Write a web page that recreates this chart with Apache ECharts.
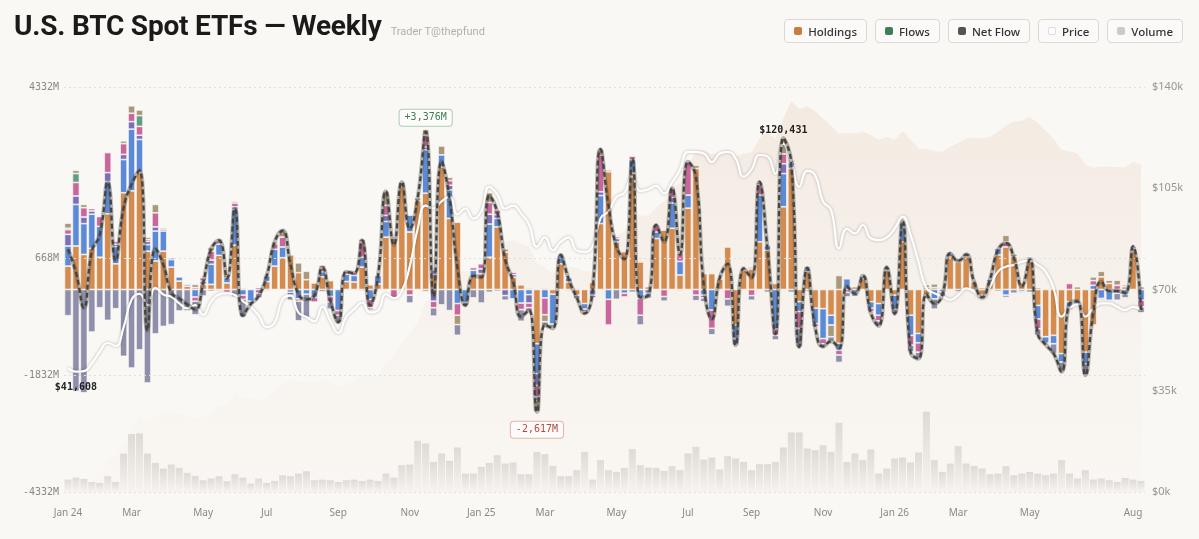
<!DOCTYPE html>
<html>
<head>
<meta charset="utf-8">
<title>U.S. BTC Spot ETFs — Weekly</title>
<script src="https://cdn.jsdelivr.net/npm/echarts@6/dist/echarts.min.js"></script>
<style>
  html, body { margin: 0; padding: 0; background: #faf8f5; }
  #wrap { position: relative; width: 1199px; height: 539px; overflow: hidden; }
  #chart { position: absolute; left: 0; top: 0; width: 1199px; height: 539px; }
  .head { position: absolute; left: 14px; top: 9px; z-index: 2; display: flex; align-items: baseline; white-space: nowrap; }
  .head h1 { margin: 0; font: 700 28px Roboto, sans-serif; letter-spacing: -0.2px; color: #1b1a19; }
  .head span { margin-left: 9px; font: 400 11px Roboto, sans-serif; color: #b3afaa; }
  .legend { position: absolute; top: 19px; right: 16px; display: flex; gap: 8px; z-index: 2; }
  .legend div { height: 22px; border: 1px solid #dcd8d3; border-radius: 4px; background: #fbfaf8;
    padding: 0 9px; display: flex; align-items: center; font: 500 11.5px "Noto Sans", sans-serif; color: #333; }
  .legend i { width: 8px; height: 8px; border-radius: 2px; margin-right: 6px; box-sizing: border-box; }
</style>
</head>
<body>
<div id="wrap">
  <div class="head"><h1>U.S. BTC Spot ETFs — Weekly</h1><span>Trader T@thepfund</span></div>
  <div class="legend" id="legend"></div>
  <div id="chart"></div>
</div>
<script>
// weekly flows per fund, $M (weeks starting Mon 2024-01-08)
const ibit = [
  500, 930, 750, 880, 690, 1620, 550, 2070, 2110, 2500,
  820, 610, 820, 480, 180, 70, 40, 110, 110, 730,
  140, 950, 30, 0, 0, 170, 500, 680, 740, 360,
  210, 140, 270, 190, 0, 170, 160, 480, 100, 120,
  1120, 1100, 2190, 1230, 1900, 2060, 320, 2620, 1520, 1440,
  0, 280, 340, 690, 1340, 800, 260, 100, 30, -1160,
  30, -100, 550, 160, -120, -300, 150, 1410, 2520, 1020,
  810, 2490, 590, 60, 1090, 1270, 1310, 310, 1740, 2590,
  340, 340, 220, 910, -760, 410, 440, 1020, 840, 130,
  1770, 2590, -260, 380, -400, -410, -550, -1150, 0, 60,
  230, -260, -300, 410, -120, 1020, -550, -940, -120, 40,
  30, 700, 590, 700, 160, -120, 160, 740, 910, 700,
  140, 590, -340, -1010, -980, -1370, -260, -250, -1340, -760,
  270, 130, 0, 60, 810, 0
];
const fbtc = [
  430, 890, 660, 730, 660, 690, 370, 710, 1320, 710,
  140, 640, 430, 160, 90, 40, -160, 70, 430, 240,
  110, 760, -120, -250, 0, 120, 360, 230, -60, -200,
  -100, -170, 110, -150, -450, 160, 140, 210, -210, 180,
  335, 0, 0, 360, 0, 930, 100, 260, 610, -300,
  -280, 130, 0, 710, 180, 0, -200, -290, -110, -640,
  -180, -640, 180, 90, 0, -120, -120, 600, -210, 70,
  -80, 290, -190, -80, 140, 0, 540, 290, 280, 0,
  -120, -440, 30, 0, -290, 0, 40, 1000, 100, -840,
  710, 130, -210, 70, -330, -640, -210, -150, 230, -80,
  60, -140, -250, 70, -300, 320, -430, -200, 40, -200,
  -50, 70, 70, 70, 30, -90, 60, 140, -120, 0,
  -40, 0, -290, -140, -180, -180, -120, -60, -250, 90,
  -190, -230, 0, -100, 70, -230
];
const bitb = [
  250, 180, 140, 70, 0, 190, 50, 110, 160, 90,
  70, 90, 40, 40, 0, 0, 0, 0, 90, 0,
  0, 60, 0, 0, 40, 0, 0, 0, -60, 0,
  0, 0, 0, 0, 0, 0, 0, 0, 0, 0,
  130, 0, 0, 0, 0, 60, -250, 0, 100, 0,
  0, 0, 100, 210, 80, -130, 60, 0, -180, -250,
  0, 0, 0, 0, 0, 0, 0, 80, 0, 0,
  0, 0, 0, 0, 0, 0, 120, 0, 0, 0,
  0, 0, 0, 0, 0, 0, 0, 0, 0, 0,
  210, 0, 0, 0, 0, 0, 0, 0, 0, 0,
  0, 0, 0, 0, 0, 0, 0, 0, 0, 0,
  0, 0, 0, 0, 0, 0, 0, 0, 0, 0,
  0, 0, 0, 0, 0, 0, 0, 0, 0, 0,
  0, 0, -80, 0, 0, 0
];
const arkb = [
  100, 290, 200, 50, 210, 430, 60, 230, 180, 190,
  40, 300, 30, 0, 0, 20, -90, 70, 190, 70,
  -60, 80, -90, 0, -80, 30, 120, 210, 0, -50,
  0, -100, 80, -120, -100, 70, 70, 320, -180, 0,
  215, -190, 0, -120, 0, 250, -140, 0, 100, -250,
  0, 60, 110, 250, 100, 0, 50, -140, -100, -250,
  -360, 0, 30, 0, 0, -60, -60, 780, -550, 40,
  -80, 70, -360, 0, 150, -150, 200, 180, 710, -120,
  -60, -390, 0, -200, 0, 40, -130, 220, 0, -140,
  210, 0, -360, 0, -70, -110, 0, -100, -60, 0,
  0, -70, -120, 0, 0, 80, -210, -200, 0, 0,
  0, 0, 0, 0, 0, 0, 0, 0, 110, 0,
  0, 70, -210, 0, 0, 0, 130, 0, 0, 100,
  0, 0, 90, 0, 40, -140
];
const hodl = [
  30, 190, 0, 0, 0, 0, 0, 0, 0, 230,
  0, 0, 0, 0, 0, 0, 0, 0, 0, 0,
  0, 0, 0, 0, 0, 0, 0, 0, 0, 0,
  0, 0, 0, 0, 0, 0, 0, 0, 0, 0,
  0, 0, 0, 0, 0, 0, 0, 0, 0, 0,
  0, 0, 0, 0, 0, 0, 0, 0, 0, -80,
  0, 0, 0, 0, 0, 0, 0, 0, 0, 0,
  0, 0, 0, 0, 0, 0, 0, 0, 0, 0,
  0, 0, 0, 0, 0, 0, 0, 0, 0, 0,
  0, 0, 0, 0, 0, 0, 0, 0, 0, 0,
  0, 0, 0, 0, 0, 0, 0, 0, 0, 0,
  0, 0, 0, 0, 0, 0, 0, 0, 0, 0,
  0, 0, 0, 0, 0, 0, 0, 0, 0, 0,
  0, 0, 0, 0, 0, 0
];
const others = [
  110, 70, 70, 0, 0, 20, 0, 60, 160, 120,
  50, 180, 0, 0, 0, 0, 70, 30, 80, 40,
  50, 40, 0, 0, 0, 0, 40, 140, 20, 210,
  180, 0, 60, 0, 0, 0, 0, 70, 0, 0,
  300, 40, 110, 0, 60, 120, 0, 190, 70, -200,
  0, 0, 0, 210, 0, 70, 0, 0, 0, -120,
  -150, -60, 0, 0, 30, 0, 0, 130, 40, 0,
  0, 0, 0, 0, 0, 0, 0, 0, 0, 70,
  0, 0, 0, 0, 0, 0, 0, 60, 0, 0,
  340, 50, 0, 50, 0, 0, -250, 300, 0, 0,
  0, 0, 0, 0, 0, 40, 0, 0, 60, 80,
  0, 0, 0, 0, 0, 40, 0, 0, 140, 60,
  0, 40, 40, 0, 0, 0, 0, 60, 0, 80,
  120, 70, 110, 40, 0, 60
];
const gbtc = [
  -560, -2180, -2210, -910, -390, -660, -410, -1430, -1680, -1290,
  -2000, -950, -790, -750, -460, -450, -290, -140, -40, -30,
  0, -160, -380, -60, -100, -30, 0, 0, -110, -420,
  -500, 0, -50, -150, -150, -20, -20, -30, -50, -20,
  0, 0, 0, -170, 0, -44, -180, -330, -450, -230,
  -60, -180, -290, -60, -40, -100, 0, -250, -80, -117,
  -100, -30, -20, -30, -80, -30, 0, 0, 0, -210,
  0, -60, -210, -110, 0, -100, 0, -30, 0, -120,
  -80, -140, 0, -160, -140, 0, -100, 0, -60, -100,
  0, -60, -400, -40, 0, -60, -100, -160, -100, -70,
  0, -30, -110, 0, -100, 0, -140, -140, -80, -220,
  -100, 0, -50, -20, -30, 0, 0, -40, -50, -80,
  -30, -60, -140, -30, -210, -210, -50, 0, -240, 0,
  -30, 0, -150, -80, 0, -130
];
// BTC weekly price, $
const price = [
  42800, 41608, 41800, 44500, 48500, 51500, 50500, 57000, 66500, 68500,
  64600, 70600, 68300, 67500, 65200, 63500, 64600, 61200, 65800, 68300,
  68700, 68100, 66000, 64000, 61000, 57000, 58500, 66700, 67900, 62000,
  60500, 59000, 64100, 59100, 55000, 60500, 63200, 65500, 62100, 62800,
  68400, 67000, 69500, 78000, 91000, 99000, 98000, 100500, 102000, 96000,
  98000, 94500, 97000, 105500, 103000, 98000, 99000, 96300, 92500, 84800,
  88000, 83500, 86500, 88000, 83500, 83000, 85000, 94600, 97000, 102000,
  103500, 109000, 104000, 104600, 105800, 103200, 107000, 111500, 117600, 117500,
  117000, 114000, 117000, 117600, 115300, 109000, 111500, 116500, 116000, 110000,
  120431, 114000, 105500, 111000, 109500, 100400, 97500, 84200, 91000, 89400,
  92300, 87700, 87100, 88000, 91000, 95200, 88900, 79600, 70400, 68700,
  67600, 66400, 68100, 70400, 69300, 67000, 71000, 76200, 77900, 78500,
  79600, 80000, 78500, 76200, 70400, 60600, 63500, 64900, 60600, 63500,
  65200, 65200, 64000, 62900, 64000, 62900
];
// weekly traded volume, $B
const volume = [
  7.4, 8.6, 7.8, 6.0, 5.4, 9.4, 6.0, 23.0, 34.6, 35.0,
  23.0, 17.4, 14.0, 16.4, 14.4, 11.4, 9.6, 7.0, 8.0, 9.4,
  6.4, 10.6, 8.6, 5.0, 8.0, 5.4, 6.6, 10.0, 9.4, 11.0,
  12.4, 7.0, 7.4, 7.0, 6.0, 7.0, 7.4, 6.6, 7.4, 6.6,
  11.0, 8.6, 16.0, 16.4, 30.6, 29.0, 18.0, 23.0, 18.6, 26.6,
  11.0, 11.0, 15.0, 17.4, 22.0, 17.0, 17.6, 10.6, 10.6, 24.0,
  22.6, 15.6, 9.4, 9.4, 13.0, 24.0, 7.4, 19.0, 13.0, 12.0,
  14.4, 25.6, 16.0, 14.6, 14.4, 12.6, 15.4, 13.0, 23.0, 27.0,
  19.4, 20.6, 13.4, 21.4, 20.0, 18.0, 13.0, 16.6, 16.6, 18.0,
  26.6, 35.6, 35.6, 26.0, 25.0, 28.0, 24.0, 41.4, 18.0, 23.0,
  19.0, 25.4, 11.0, 14.0, 20.0, 20.6, 17.6, 23.6, 48.0, 19.0,
  12.0, 17.0, 27.4, 17.0, 15.6, 14.0, 10.6, 11.0, 15.4, 10.0,
  11.0, 12.0, 11.0, 10.0, 11.0, 19.0, 11.0, 8.0, 13.0, 7.4,
  8.0, 7.0, 6.0, 8.4, 7.4, 6.6
];
const leftTicks = [-4332, -1832, 668, 4332];
const xTickWeeks = ['2024-01-08', '2024-03-04', '2024-05-06', '2024-07-01', '2024-09-02', '2024-11-04',
  '2025-01-06', '2025-03-03', '2025-05-05', '2025-07-07', '2025-09-01', '2025-11-03',
  '2026-01-05', '2026-03-02', '2026-05-04', '2026-08-03'];
const xTickNames = ['Jan 24', 'Mar', 'May', 'Jul', 'Sep', 'Nov', 'Jan 25', 'Mar', 'May', 'Jul', 'Sep', 'Nov',
  'Jan 26', 'Mar', 'May', 'Aug'];
const legendNames = ['Holdings', 'Flows', 'Net Flow', 'Price', 'Volume'];
const legendColors = ['#c97c3f', '#3f7d56', '#57534f', '#ffffff', '#cfcac4'];

const funds = [
  { name: 'IBIT', data: ibit, color: '#d38b4f' },
  { name: 'FBTC', data: fbtc, color: '#5b8bd8' },
  { name: 'BITB', data: bitb, color: '#7a6fb8' },
  { name: 'ARKB', data: arkb, color: '#c8679b' },
  { name: 'HODL', data: hodl, color: '#5f9e84' },
  { name: 'Other', data: others, color: '#a8987c' },
  { name: 'GBTC', data: gbtc, color: '#8e8faa' }
];

const MONO = '"DejaVu Sans Mono", monospace';

// header legend buttons
document.getElementById('legend').innerHTML = legendNames.map((n, i) =>
  '<div><i style="background:' + legendColors[i] + (n === 'Price' ? ';border:1px solid #ddd' : '') + '"></i>' + n + '</div>'
).join('');

const weeks = [];
for (let i = 0; i < ibit.length; i++) {
  weeks.push(new Date(Date.UTC(2024, 0, 8 + 7 * i)).toISOString().slice(0, 10));
}
const tickMap = new Map(xTickWeeks.map((w, i) => [w, xTickNames[i]]));

const netFlow = weeks.map((_, i) => funds.reduce((s, f) => s + f.data[i], 0));
let run = 0;
const holdings = netFlow.map(v => (run += v));

const chart = echarts.init(document.getElementById('chart'));

const flowSeries = funds.map(f => ({
  type: 'bar',
  name: f.name,
  stack: 'flows',
  yAxisIndex: 0,
  data: f.data.map(v => (v === 0 ? null : v)),
  barCategoryGap: '12%',
  barGap: '-100%',
  itemStyle: { color: f.color, borderColor: '#faf8f5', borderWidth: 0.7 },
  z: 3,
  silent: true
}));

chart.setOption({
  backgroundColor: '#faf8f5',
  animation: false,
  grid: { left: 64, right: 54, top: 87, bottom: 47 },
  xAxis: {
    type: 'category',
    data: weeks,
    boundaryGap: true,
    axisLine: { show: false },
    axisTick: { show: false },
    axisLabel: {
      interval: (idx, val) => tickMap.has(val),
      formatter: val => tickMap.get(val) || '',
      color: '#8c8882',
      fontSize: 10,
      margin: 16,
      fontFamily: '"Noto Sans", sans-serif'
    }
  },
  yAxis: [
    {
      type: 'value', min: -4332, max: 4332,
      axisLine: { show: false }, axisTick: { show: false }, splitLine: { show: false },
      axisLabel: { customValues: leftTicks, formatter: v => v + 'M', color: '#8c8882', fontSize: 10, margin: 5, fontFamily: MONO }
    },
    {
      type: 'value', min: 0, max: 140000, interval: 35000, position: 'right',
      axisLine: { show: false }, axisTick: { show: false }, splitLine: { show: false },
      axisLabel: { formatter: v => '$' + v / 1000 + 'k', color: '#9a958f', fontSize: 11, margin: 7, fontFamily: '"Noto Sans", sans-serif' }
    },
    { type: 'value', show: false, min: 0, max: 65000 },
    { type: 'value', show: false, min: 0, max: 242 }
  ],
  series: [
    {
      type: 'line', name: 'grid', data: [], yAxisIndex: 0, z: 0, silent: true,
      markLine: {
        silent: true, symbol: ['none', 'none'], label: { show: false },
        lineStyle: { type: [2, 3], color: '#e2ded8', width: 1 },
        data: leftTicks.map(v => ({ yAxis: v }))
      }
    },
    {
      type: 'line', name: 'Holdings', data: holdings, yAxisIndex: 2, symbol: 'none', z: 1, silent: true,
      lineStyle: { width: 0 },
      areaStyle: {
        color: new echarts.graphic.LinearGradient(0, 0, 0, 1, [
          { offset: 0, color: 'rgba(226,196,172,0.40)' },
          { offset: 1, color: 'rgba(236,222,210,0.08)' }
        ])
      }
    },
    {
      type: 'bar', name: 'Volume', data: volume, yAxisIndex: 3, z: 2, silent: true,
      barCategoryGap: '12%', barGap: '-100%',
      itemStyle: {
        color: new echarts.graphic.LinearGradient(0, 0, 0, 1, [
          { offset: 0, color: 'rgba(200,195,189,0.55)' },
          { offset: 1, color: 'rgba(200,195,189,0.05)' }
        ])
      }
    },
    ...flowSeries,
    {
      type: 'line', name: 'Price', data: price, yAxisIndex: 1, smooth: 0.5, symbol: 'none', z: 4, silent: true,
      lineStyle: { color: '#ffffff', width: 2.2, shadowColor: 'rgba(0,0,0,0.28)', shadowBlur: 3 },
      markPoint: {
        symbol: 'circle', symbolSize: 0,
        label: { formatter: p => '$' + p.value.toLocaleString('en-US'), fontFamily: MONO, fontWeight: 'bold', fontSize: 10, color: '#222' },
        data: [
          { type: 'max', label: { position: 'top', distance: 8 } },
          { type: 'min', label: { position: 'bottom', distance: 11 } }
        ]
      }
    },
    {
      type: 'line', name: 'NetHalo', data: netFlow, yAxisIndex: 0, smooth: 0.5, symbol: 'none', z: 5, silent: true,
      lineStyle: { color: 'rgba(85,83,80,0.40)', width: 4.2 }
    },
    {
      type: 'line', name: 'Net Flow', data: netFlow, yAxisIndex: 0, smooth: 0.5, symbol: 'none', z: 6, silent: true,
      lineStyle: { color: '#46443f', width: 2.3, type: [5, 3] },
      markPoint: {
        symbol: 'circle', symbolSize: 0,
        label: { fontFamily: MONO, fontSize: 10, backgroundColor: '#fdfcfb', borderWidth: 1, borderRadius: 3, padding: [3, 5] },
        data: [
          { type: 'max', label: { position: 'top', distance: 6, color: '#3e7d50', borderColor: '#a9cdb2',
            formatter: p => '+' + p.value.toLocaleString('en-US') + 'M' } },
          { type: 'min', label: { position: 'bottom', distance: 10, color: '#b9473d', borderColor: '#e6b2ab',
            formatter: p => p.value.toLocaleString('en-US') + 'M' } }
        ]
      }
    }
  ]
});
</script>
</body>
</html>
